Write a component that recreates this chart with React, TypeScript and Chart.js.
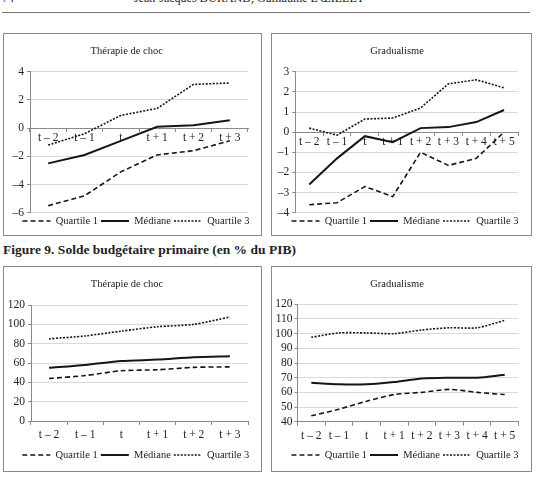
import { useEffect, useRef } from 'react';
import { Chart, registerables } from 'chart.js';

Chart.register(...registerables);

const SERIF = '"Liberation Serif", "Times New Roman", serif';
const INK = '#161616';
const TEXT = '#222222';
const AXIS = '#8a8a8a';
const GRID = '#d9d9d9';

// Category axes
const shockLabels = ['t – 2', 't – 1', 't', 't + 1', 't + 2', 't + 3'];
const gradualLabels = ['t – 2', 't – 1', 't', 't + 1', 't + 2', 't + 3', 't + 4', 't + 5'];

// Solde budgétaire primaire (% du PIB) — thérapie de choc
const balanceShockQ1 = [-5.5, -4.8, -3.1, -1.9, -1.6, -0.9];
const balanceShockMedian = [-2.5, -1.9, -0.9, 0.1, 0.2, 0.55];
const balanceShockQ3 = [-1.2, -0.4, 0.9, 1.4, 3.1, 3.2];

// Solde budgétaire primaire (% du PIB) — gradualisme
const balanceGradualQ1 = [-3.6, -3.5, -2.7, -3.2, -1.0, -1.65, -1.3, 0.0];
const balanceGradualMedian = [-2.6, -1.3, -0.2, -0.5, 0.2, 0.25, 0.5, 1.1];
const balanceGradualQ3 = [0.2, -0.15, 0.65, 0.7, 1.2, 2.4, 2.6, 2.2];

// Dette publique (% du PIB) — thérapie de choc
const debtShockQ1 = [44, 47, 52, 53, 55.5, 56];
const debtShockMedian = [55, 58, 62, 63.5, 66, 67];
const debtShockQ3 = [85, 88, 93, 97.5, 100, 107.5];

// Dette publique (% du PIB) — gradualisme
const debtGradualQ1 = [44, 48.5, 54, 58.5, 60, 62, 60, 58.5];
const debtGradualMedian = [66.5, 65.5, 65.5, 67, 69.5, 70, 70, 72];
const debtGradualQ3 = [97.5, 100.5, 100.5, 100, 102.5, 104, 104, 109];

const fmt = (v: number) => (v < 0 ? '–' + Math.abs(v) : String(v));

// Re-centres the title and legend boxes horizontally after layout.
const centerBoxes = {
  id: 'centerBoxes',
  afterLayout(chart: any, _args: any, opts: any) {
    const move = (box: any, cx: any) => {
      if (!box || typeof cx !== 'number') return;
      const d = cx - (box.left + box.right) / 2;
      box.left += d;
      box.right += d;
    };
    move(chart.titleBlock, opts.titleX);
    move(chart.legend, opts.legendX);
  },
};

type PanelCfg = {
  id: string;
  left: number;
  top: number;
  w: number;
  h: number;
  title: string;
  labels: string[];
  q1: number[];
  med: number[];
  q3: number[];
  min: number;
  max: number;
  step: number;
  crossZero: boolean;
  yW: number;
  xH: number;
  padR: number;
  padB: number;
  legendMax: number;
  titleBottom: number;
  titleX: number;
  legendX: number;
  tension: number;
  xTick: number;
  xTickPad: number;
  yTickPad: number;
};

const PANELS: PanelCfg[] = [
  {
    id: 'solde-choc', left: 3, top: 33, w: 259, h: 203, title: 'Thérapie de choc',
    labels: shockLabels, q1: balanceShockQ1, med: balanceShockMedian, q3: balanceShockQ3,
    min: -6, max: 4, step: 2, crossZero: true,
    yW: 22, xH: 14.45, padR: 13, padB: 4, legendMax: 18.25, titleBottom: 14.4,
    titleX: 122.7, legendX: 132, tension: 0, xTick: 3, xTickPad: 0, yTickPad: 3,
  },
  {
    id: 'solde-grad', left: 271, top: 33, w: 261, h: 203, title: 'Gradualisme',
    labels: gradualLabels, q1: balanceGradualQ1, med: balanceGradualMedian, q3: balanceGradualQ3,
    min: -4, max: 3, step: 1, crossZero: true,
    yW: 19.3, xH: 14.05, padR: 13, padB: 4, legendMax: 18.25, titleBottom: 14.4,
    titleX: 125, legendX: 133, tension: 0, xTick: 3, xTickPad: 0, yTickPad: 3,
  },
  {
    id: 'dette-choc', left: 3, top: 266, w: 259, h: 206, title: 'Thérapie de choc',
    labels: shockLabels, q1: debtShockQ1, med: debtShockMedian, q3: debtShockQ3,
    min: 0, max: 120, step: 20, crossZero: false,
    yW: 23, xH: 25.75, padR: 13, padB: 6, legendMax: 18.25, titleBottom: 14.7,
    titleX: 123, legendX: 131.8, tension: 0.25, xTick: 4, xTickPad: 3, yTickPad: 3,
  },
  {
    id: 'dette-grad', left: 271, top: 266, w: 261, h: 206, title: 'Gradualisme',
    labels: gradualLabels, q1: debtGradualQ1, med: debtGradualMedian, q3: debtGradualQ3,
    min: 40, max: 120, step: 10, crossZero: false,
    yW: 21.5, xH: 25.05, padR: 12.5, padB: 6, legendMax: 18.25, titleBottom: 14.0,
    titleX: 125, legendX: 133, tension: 0.25, xTick: 4, xTickPad: 3, yTickPad: 2,
  },
];

function buildConfig(p: PanelCfg): any {
  const tickFont = { family: SERIF, size: 11.5 };
  const series = (label: string, data: number[], width: number, dash: number[]) => ({
    label,
    data,
    borderColor: INK,
    backgroundColor: 'transparent',
    borderWidth: width,
    borderDash: dash,
    borderCapStyle: 'butt',
    pointRadius: 0,
    tension: p.tension,
    fill: false,
  });
  return {
    type: 'line',
    data: {
      labels: p.labels,
      datasets: [
        series('Quartile 1', p.q1, 1.6, [5, 3]),
        series('Médiane', p.med, 2, []),
        series('Quartile 3', p.q3, 1.6, [2, 1.5]),
      ],
    },
    options: {
      responsive: false,
      animation: false,
      events: [],
      devicePixelRatio: 1,
      layout: { padding: { left: 4, right: p.padR, top: 0, bottom: p.padB } },
      plugins: {
        title: {
          display: true,
          text: p.title,
          color: TEXT,
          font: { family: SERIF, size: 10.5, weight: 'normal' },
          padding: { top: 10.7, bottom: p.titleBottom },
        },
        legend: {
          position: 'bottom',
          maxHeight: p.legendMax,
          labels: {
            usePointStyle: true,
            pointStyle: 'line',
            pointStyleWidth: 28,
            color: TEXT,
            font: { family: SERIF, size: 10.5 },
            padding: 3,
            generateLabels: (chart: any) =>
              chart.data.datasets.map((ds: any, i: number) => ({
                text: ds.label,
                datasetIndex: i,
                fillStyle: 'transparent',
                strokeStyle: ds.borderColor,
                lineWidth: ds.borderWidth,
                lineDash: ds.borderDash || [],
                lineCap: 'butt',
                pointStyle: 'line',
                fontColor: TEXT,
                hidden: false,
              })),
          },
        },
        tooltip: { enabled: false },
        centerBoxes: { titleX: p.titleX, legendX: p.legendX },
      },
      scales: {
        x: {
          position: p.crossZero ? { y: 0 } : 'bottom',
          offset: true,
          grid: {
            offset: true,
            drawOnChartArea: false,
            drawTicks: true,
            tickLength: p.xTick,
            color: AXIS,
          },
          border: { display: true, color: AXIS, width: 1 },
          ticks: {
            font: tickFont,
            color: TEXT,
            padding: p.xTickPad,
            maxRotation: 0,
            minRotation: 0,
            autoSkip: false,
          },
          afterFit: (s: any) => {
            s.height = p.xH;
          },
        },
        y: {
          min: p.min,
          max: p.max,
          ticks: {
            stepSize: p.step,
            autoSkip: false,
            font: tickFont,
            color: TEXT,
            padding: p.yTickPad,
            callback: (v: any) => fmt(Number(v)),
          },
          grid: { color: GRID, tickColor: AXIS, tickLength: 3, lineWidth: 1 },
          border: { display: true, color: AXIS, width: 1 },
          afterFit: (s: any) => {
            s.width = p.yW;
          },
        },
      },
    },
    plugins: [centerBoxes],
  };
}

function Panel({ cfg }: { cfg: PanelCfg }) {
  const ref = useRef<HTMLCanvasElement>(null);
  useEffect(() => {
    if (!ref.current) return;
    const chart = new Chart(ref.current, buildConfig(cfg));
    return () => chart.destroy();
  }, [cfg]);
  const cw = cfg.w - 2;
  const ch = cfg.h - 2;
  return (
    <div
      style={{
        position: 'absolute',
        left: cfg.left,
        top: cfg.top,
        width: cw,
        height: ch,
        border: `1px solid ${AXIS}`,
        background: '#fff',
      }}
    >
      <canvas ref={ref} width={cw} height={ch} style={{ display: 'block', width: cw, height: ch }} />
    </div>
  );
}

export default function App() {
  return (
    <div
      style={{
        position: 'absolute',
        left: 0,
        top: 0,
        width: 536,
        height: 479,
        overflow: 'hidden',
        background: '#fff',
        fontFamily: SERIF,
        color: TEXT,
      }}
    >
      <div style={{ position: 'absolute', left: 2, top: -9, fontSize: 12, lineHeight: '14px' }}>74</div>
      <div
        style={{
          position: 'absolute',
          left: 0,
          top: -9,
          width: 498,
          textAlign: 'center',
          fontSize: 12,
          lineHeight: '14px',
          whiteSpace: 'nowrap',
        }}
      >
        Jean-Jacques DURAND, Guillaume L'ŒILLET
      </div>
      <div style={{ position: 'absolute', left: 2, top: 12, width: 528, height: 1, background: '#777' }} />
      <div
        style={{
          position: 'absolute',
          left: 3,
          top: 242,
          fontSize: 13.5,
          fontWeight: 700,
          lineHeight: '16px',
          whiteSpace: 'nowrap',
        }}
      >
        Figure 9. Solde budgétaire primaire (en % du PIB)
      </div>
      {PANELS.map((p) => (
        <Panel key={p.id} cfg={p} />
      ))}
    </div>
  );
}
